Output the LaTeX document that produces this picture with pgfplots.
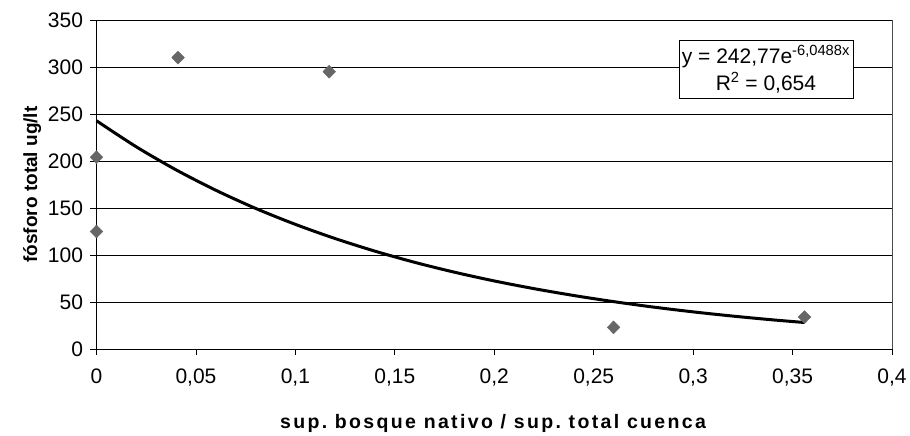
\documentclass[border=0pt]{standalone}
\usepackage{fontspec}
\setmainfont{Liberation Sans}
\usepackage{pgfplots}
\pgfplotsset{compat=1.18}
\begin{document}
\begin{tikzpicture}[x=1pt,y=1pt]
\begin{axis}[
  scale only axis,
  width=795.5pt, height=329pt,
  at={(0,0)}, anchor=south west,
  xmin=0, xmax=0.4, ymin=0, ymax=350,
  xtick={0,0.05,0.1,0.15,0.2,0.25,0.3,0.35,0.4},
  ytick={0,50,100,150,200,250,300,350},
  axis x line*=bottom, axis y line*=left,
  axis line style={black, line width=0.8pt},
  tick style={black, line width=0.8pt},
  tick align=outside, major tick length=6pt,
  ymajorgrids, grid style={black, line width=0.6pt},
  /pgf/number format/assume math mode=true,
  /pgf/number format/fixed,
  /pgf/number format/precision=2,
  /pgf/number format/use comma,
  /pgf/number format/1000 sep={},
  scaled ticks=false,
  xticklabel style={font=\fontsize{21}{23}\selectfont, yshift=-10pt},
  yticklabel style={font=\fontsize{21}{23}\selectfont, xshift=-4pt},
  xlabel={\addfontfeatures{LetterSpace=12}\textbf{sup.\ bosque nativo / sup.\ total cuenca}},
  ylabel={\textbf{fósforo total ug/lt}},
  xlabel style={font=\fontsize{19.5}{21}\selectfont, yshift=-22pt},
  ylabel style={font=\fontsize{19}{21}\selectfont, yshift=0pt},
  clip=false,
]
\addplot[only marks, mark=diamond*, mark size=6.5pt, mark options={xscale=1.3}, color=black!60, fill=black!60]
  coordinates {(0,204) (0,125) (0.041,310) (0.117,295) (0.260,23) (0.356,34)};
\addplot[black, line width=3pt, smooth]
  coordinates {(0,242.8) (0.02,215.1) (0.04,190.6) (0.06,168.9) (0.08,149.6)
  (0.10,132.6) (0.12,117.5) (0.14,104.1) (0.16,92.2) (0.18,81.7) (0.20,72.4)
  (0.22,64.2) (0.24,56.9) (0.26,50.4) (0.28,44.6) (0.30,39.5) (0.32,35.0)
  (0.34,31.0) (0.356,28.2)};
\draw[black!70, line width=0.8pt] (rel axis cs:1,0) -- (rel axis cs:1,1);
\node[draw=black, line width=0.7pt, fill=white, align=center, inner xsep=3pt, inner ysep=5pt,
  font=\fontsize{21}{27}\selectfont] at (axis cs:0.3366,297.5)
  {y = 242,77e\textsuperscript{-6,0488x}\\R\textsuperscript{2} = 0,654};
\end{axis}
\pgfresetboundingbox
\path[use as bounding box] (-96.5,-87) rectangle (813.5,349);
\end{tikzpicture}
\end{document}
